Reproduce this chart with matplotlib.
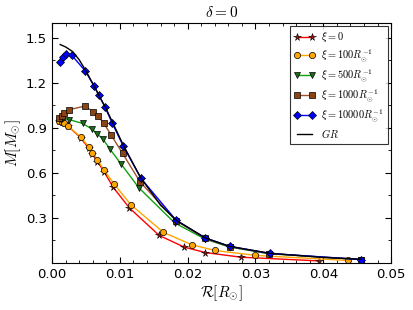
import matplotlib.pyplot as plt
from matplotlib.ticker import MultipleLocator

plt.rcParams['mathtext.fontset'] = 'cm'
plt.rcParams['xtick.direction'] = 'in'
plt.rcParams['ytick.direction'] = 'in'
plt.rcParams['xtick.top'] = True
plt.rcParams['ytick.right'] = True

# 読み取ったデータ (R [R_sun], M [M_sun])
r_xi0 = [0.0010, 0.0014, 0.0018, 0.0024, 0.0042, 0.0054, 0.0059, 0.0067, 0.0077,
         0.0090, 0.0114, 0.0158, 0.0195, 0.0226, 0.0278, 0.0394]
m_xi0 = [0.948, 0.942, 0.931, 0.910, 0.835, 0.765, 0.728, 0.676, 0.606,
         0.505, 0.367, 0.183, 0.105, 0.069, 0.038, 0.013]

r_xi100 = [0.0010, 0.0014, 0.0018, 0.0024, 0.0042, 0.0055, 0.00595, 0.0067, 0.0077,
           0.0092, 0.0116, 0.0164, 0.0206, 0.0240, 0.0300, 0.0436]
m_xi100 = [0.948, 0.942, 0.931, 0.911, 0.840, 0.770, 0.736, 0.687, 0.617,
           0.523, 0.389, 0.204, 0.121, 0.083, 0.050, 0.016]

r_xi500 = [0.0013, 0.0016, 0.00255, 0.0045, 0.00585, 0.0067, 0.0075, 0.00855,
           0.0102, 0.0128, 0.0181, 0.0226, 0.0262, 0.0320, 0.0456]
m_xi500 = [0.955, 0.964, 0.955, 0.930, 0.893, 0.859, 0.826, 0.758,
           0.658, 0.501, 0.266, 0.158, 0.105, 0.061, 0.022]

r_xi1000 = [0.0010, 0.0014, 0.0018, 0.00255, 0.0048, 0.0061, 0.0068, 0.0076, 0.0087,
            0.0104, 0.0130, 0.0183, 0.0226, 0.0262, 0.0320, 0.0456]
m_xi1000 = [0.966, 0.982, 0.998, 1.022, 1.045, 1.009, 0.978, 0.933, 0.854,
            0.730, 0.539, 0.280, 0.163, 0.108, 0.062, 0.022]

r_xi10000 = [0.0012, 0.0016, 0.0021, 0.0029, 0.0049, 0.0062, 0.0069, 0.0078, 0.0089,
             0.0105, 0.0131, 0.0183, 0.0226, 0.0262, 0.0321, 0.0456]
m_xi10000 = [1.340, 1.370, 1.390, 1.385, 1.280, 1.180, 1.120, 1.040, 0.930,
             0.780, 0.564, 0.284, 0.166, 0.110, 0.063, 0.022]

r_gr = [0.0012, 0.0020, 0.0030, 0.0040, 0.0050, 0.0060, 0.0070, 0.0080, 0.0090,
        0.0105, 0.0131, 0.0160, 0.0183, 0.0226, 0.0262, 0.0321, 0.0400, 0.0456]
m_gr = [1.456, 1.440, 1.410, 1.355, 1.280, 1.195, 1.110, 1.025, 0.930,
        0.785, 0.566, 0.385, 0.285, 0.166, 0.110, 0.064, 0.036, 0.024]

fig = plt.figure(figsize=(4.13, 3.10), dpi=100)
ax = fig.add_axes([0.126, 0.152, 0.821, 0.774])

kw = dict(ms=4.5, mec='k', mew=0.5, lw=1)
ax.plot(r_xi0, m_xi0, '-*', color='red', mfc='#a01010', ms=5.5, mec='k', mew=0.4, lw=1,
        label=r'$\xi=0$')
ax.plot(r_xi100, m_xi100, '-o', color='orange', mfc='orange', label=r'$\xi=100R_{\odot}^{-1}$', **kw)
ax.plot(r_xi500, m_xi500, '-v', color='#10a010', mfc='#1a6e1a', label=r'$\xi=500R_{\odot}^{-1}$', **kw)
ax.plot(r_xi1000, m_xi1000, '-s', color='#a0522d', mfc='#8b4513', label=r'$\xi=1000R_{\odot}^{-1}$', **kw)
ax.plot(r_xi10000, m_xi10000, '-D', color='blue', mfc='blue', label=r'$\xi=10000R_{\odot}^{-1}$', **kw)
ax.plot(r_gr, m_gr, '-', color='k', lw=1, label=r'$GR$')

ax.set_xlim(0, 0.05)
ax.set_ylim(0, 1.6)
ax.set_xticks([0.0, 0.01, 0.02, 0.03, 0.04, 0.05])
ax.set_yticks([0.3, 0.6, 0.9, 1.2, 1.5])
ax.xaxis.set_minor_locator(MultipleLocator(0.002))
ax.yaxis.set_minor_locator(MultipleLocator(0.15))
ax.tick_params(which='both', labelsize=9.5)
ax.tick_params(which='major', length=4)
ax.tick_params(which='minor', length=2)

ax.set_xlabel(r'$\mathcal{R}[R_{\odot}]$', fontsize=11, labelpad=2)
ax.set_ylabel(r'$M[M_{\odot}]$', fontsize=11, labelpad=2)
ax.set_title(r'$\delta=0$', fontsize=11, pad=4)

leg = ax.legend(loc='upper right', numpoints=2, fontsize=7.5, fancybox=False,
                handlelength=2.0, handletextpad=0.6, borderaxespad=0.3,
                labelspacing=0.3, borderpad=0.4)
leg.get_frame().set_edgecolor('k')
leg.get_frame().set_linewidth(0.8)

fig.savefig('out.png', dpi=100)
